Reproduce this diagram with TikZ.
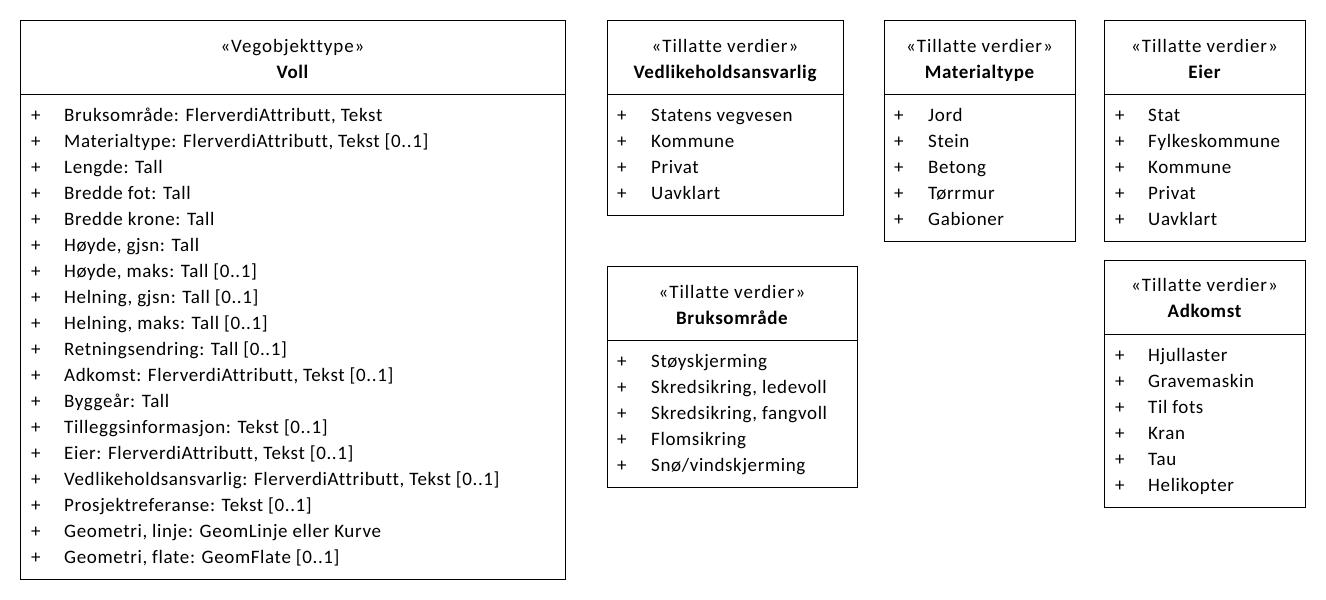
\documentclass[tikz,border=0pt]{standalone}
\usepackage{fontspec}
\setmainfont{Carlito}
\newfontfamily\umlfont[LetterSpace=3.3, Ligatures=NoCommon]{Carlito}
\newfontfamily\umlstereofont[LetterSpace=5, Ligatures=NoCommon]{Carlito}
\usetikzlibrary{positioning}

\begin{document}
\begin{tikzpicture}[
    x=1pt, y=-1pt,
    umlbox/.style={draw, line width=1pt, anchor=north west, inner sep=0pt},
    sepline/.style={line width=1pt},
    stereo/.style={anchor=base, inner sep=0pt, font=\umlstereofont\fontsize{19}{23}\selectfont},
    clsname/.style={anchor=base, inner sep=0pt, font=\umlfont\fontsize{19}{23}\selectfont\bfseries},
    attr/.style={anchor=base west, inner sep=0pt, font=\umlfont\fontsize{19}{23}\selectfont}
  ]
  \useasboundingbox (0,0) rectangle (1326,600);

  % Voll
  \node[umlbox, minimum width=545pt, minimum height=559pt] (voll) at (20,20) {};
  \coordinate (vollsep) at (20,94);
  \draw[sepline] (vollsep) -- (vollsep -| voll.east);
  \node[stereo] (vollst) at (292.5,52) {«Vegobjekttype»};
  \node[clsname] (vollname) at (292.5,78) {Voll};
  \foreach \txt [count=\i] in {{Bruksområde: FlerverdiAttributt, Tekst},
      {Materialtype: FlerverdiAttributt, Tekst [0..1]}, {Lengde: Tall},
      {Bredde fot: Tall}, {Bredde krone: Tall}, {Høyde, gjsn: Tall},
      {Høyde, maks: Tall [0..1]}, {Helning, gjsn: Tall [0..1]},
      {Helning, maks: Tall [0..1]}, {Retningsendring: Tall [0..1]},
      {Adkomst: FlerverdiAttributt, Tekst [0..1]}, {Byggeår: Tall},
      {Tilleggsinformasjon: Tekst [0..1]}, {Eier: FlerverdiAttributt, Tekst [0..1]},
      {Vedlikeholdsansvarlig: FlerverdiAttributt, Tekst [0..1]},
      {Prosjektreferanse: Tekst [0..1]}, {Geometri, linje: GeomLinje eller Kurve},
      {Geometri, flate: GeomFlate [0..1]}} {
    \node[attr] (vollp\i) at (31,{121+26*(\i-1)}) {+};
    \node[attr] (volla\i) at (64,{121+26*(\i-1)}) {\txt};
  }

  % Vedlikeholdsansvarlig
  \node[umlbox, minimum width=236pt, minimum height=195pt] (vedl) at (607,20) {};
  \coordinate (vedlsep) at (607,94);
  \draw[sepline] (vedlsep) -- (vedlsep -| vedl.east);
  \node[stereo] (vedlst) at (725,52) {«Tillatte verdier»};
  \node[clsname] (vedlname) at (725,78) {Vedlikeholdsansvarlig};
  \foreach \txt [count=\i] in {Statens vegvesen, Kommune, Privat, Uavklart} {
    \node[attr] (vedlp\i) at (617,{121+26*(\i-1)}) {+};
    \node[attr] (vedla\i) at (651,{121+26*(\i-1)}) {\txt};
  }

  % Materialtype
  \node[umlbox, minimum width=191pt, minimum height=221pt] (mat) at (884,20) {};
  \coordinate (matsep) at (884,94);
  \draw[sepline] (matsep) -- (matsep -| mat.east);
  \node[stereo] (matst) at (979.5,52) {«Tillatte verdier»};
  \node[clsname] (matname) at (979.5,78) {Materialtype};
  \foreach \txt [count=\i] in {Jord, Stein, Betong, Tørrmur, Gabioner} {
    \node[attr] (matp\i) at (894,{121+26*(\i-1)}) {+};
    \node[attr] (mata\i) at (928,{121+26*(\i-1)}) {\txt};
  }

  % Eier
  \node[umlbox, minimum width=201pt, minimum height=221pt] (eier) at (1104,20) {};
  \coordinate (eiersep) at (1104,94);
  \draw[sepline] (eiersep) -- (eiersep -| eier.east);
  \node[stereo] (eierst) at (1204.5,52) {«Tillatte verdier»};
  \node[clsname] (eiername) at (1204.5,78) {Eier};
  \foreach \txt [count=\i] in {Stat, Fylkeskommune, Kommune, Privat, Uavklart} {
    \node[attr] (eierp\i) at (1115,{121+26*(\i-1)}) {+};
    \node[attr] (eiera\i) at (1148,{121+26*(\i-1)}) {\txt};
  }

  % Bruksområde
  \node[umlbox, minimum width=250pt, minimum height=221pt] (bruk) at (607,266) {};
  \coordinate (bruksep) at (607,340);
  \draw[sepline] (bruksep) -- (bruksep -| bruk.east);
  \node[stereo] (brukst) at (732,298) {«Tillatte verdier»};
  \node[clsname] (brukname) at (732,324) {Bruksområde};
  \foreach \txt [count=\i] in {Støyskjerming, {Skredsikring, ledevoll},
      {Skredsikring, fangvoll}, Flomsikring, Snø/vindskjerming} {
    \node[attr] (brukp\i) at (617,{367+26*(\i-1)}) {+};
    \node[attr] (bruka\i) at (651,{367+26*(\i-1)}) {\txt};
  }

  % Adkomst
  \node[umlbox, minimum width=201pt, minimum height=247pt] (adk) at (1104,260) {};
  \coordinate (adksep) at (1104,334);
  \draw[sepline] (adksep) -- (adksep -| adk.east);
  \node[stereo] (adkst) at (1204.5,291) {«Tillatte verdier»};
  \node[clsname] (adkname) at (1204.5,317) {Adkomst};
  \foreach \txt [count=\i] in {Hjullaster, Gravemaskin, Til fots, Kran, Tau, Helikopter} {
    \node[attr] (adkp\i) at (1115,{361+26*(\i-1)}) {+};
    \node[attr] (adka\i) at (1148,{361+26*(\i-1)}) {\txt};
  }
\end{tikzpicture}
\end{document}
